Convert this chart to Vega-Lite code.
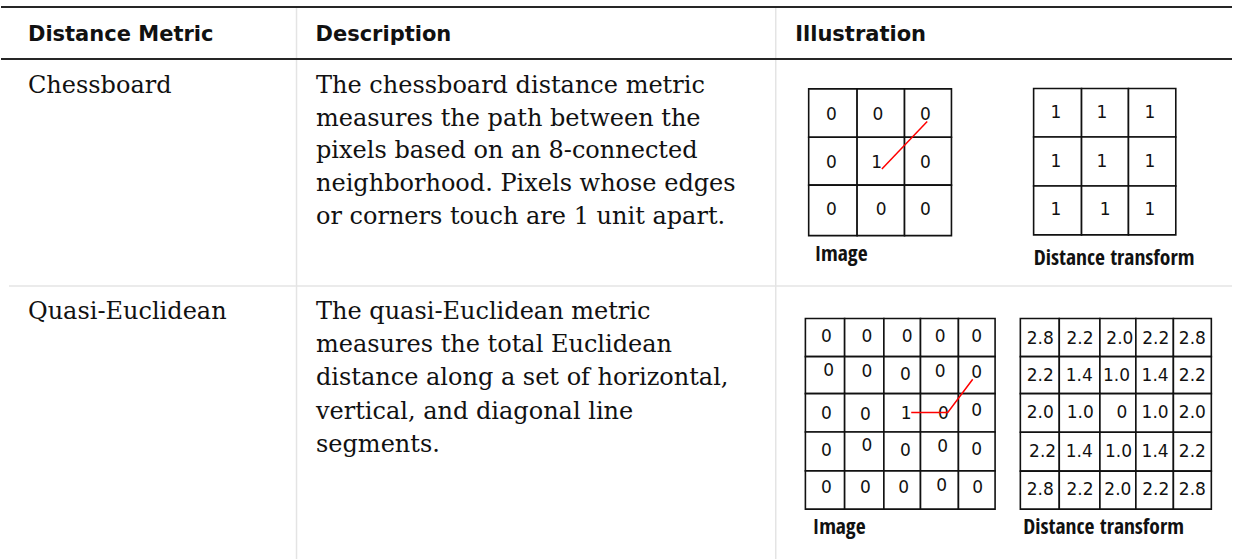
{
  "$schema": "https://vega.github.io/schema/vega-lite/v6.json",
  "width": 1233,
  "height": 560,
  "padding": 0,
  "autosize": {"type": "fit", "contains": "padding"},
  "background": "white",
  "config": {"view": {"stroke": null}},
  "datasets": {
    "lines": [
      {"kind": "divider", "x": 296, "x2": 296, "y": 8, "y2": 560},
      {"kind": "divider", "x": 776, "x2": 776, "y": 8, "y2": 560},
      {"kind": "divider", "x": 8, "x2": 1233, "y": 286.5, "y2": 286.5},
      {"kind": "border", "x": 0, "x2": 1233, "y": 7, "y2": 7},
      {"kind": "border", "x": 0, "x2": 1233, "y": 59, "y2": 59}
    ],
    "cells": [
      {"grid": "chess_image", "x": 809, "x2": 857.5, "y": 89, "y2": 137.5, "value": "0", "tx": 831.7, "ty": 115},
      {"grid": "chess_image", "x": 857.5, "x2": 905, "y": 89, "y2": 137.5, "value": "0", "tx": 878.3, "ty": 115},
      {"grid": "chess_image", "x": 905, "x2": 952, "y": 89, "y2": 137.5, "value": "0", "tx": 926, "ty": 115},
      {"grid": "chess_image", "x": 809, "x2": 857.5, "y": 137.5, "y2": 185.5, "value": "0", "tx": 831.7, "ty": 163},
      {"grid": "chess_image", "x": 857.5, "x2": 905, "y": 137.5, "y2": 185.5, "value": "1", "tx": 877, "ty": 163},
      {"grid": "chess_image", "x": 905, "x2": 952, "y": 137.5, "y2": 185.5, "value": "0", "tx": 926, "ty": 163},
      {"grid": "chess_image", "x": 809, "x2": 857.5, "y": 185.5, "y2": 236, "value": "0", "tx": 831.7, "ty": 210.7},
      {"grid": "chess_image", "x": 857.5, "x2": 905, "y": 185.5, "y2": 236, "value": "0", "tx": 881.7, "ty": 210.7},
      {"grid": "chess_image", "x": 905, "x2": 952, "y": 185.5, "y2": 236, "value": "0", "tx": 926, "ty": 210.7},
      {"grid": "chess_dt", "x": 1034.3, "x2": 1082.3, "y": 88.7, "y2": 137.3, "value": "1", "tx": 1056.7, "ty": 113.3},
      {"grid": "chess_dt", "x": 1082.3, "x2": 1129.3, "y": 88.7, "y2": 137.3, "value": "1", "tx": 1102.7, "ty": 113.3},
      {"grid": "chess_dt", "x": 1129.3, "x2": 1176.7, "y": 88.7, "y2": 137.3, "value": "1", "tx": 1150.7, "ty": 113.3},
      {"grid": "chess_dt", "x": 1034.3, "x2": 1082.3, "y": 137.3, "y2": 186.3, "value": "1", "tx": 1056.7, "ty": 162.3},
      {"grid": "chess_dt", "x": 1082.3, "x2": 1129.3, "y": 137.3, "y2": 186.3, "value": "1", "tx": 1102.7, "ty": 162.3},
      {"grid": "chess_dt", "x": 1129.3, "x2": 1176.7, "y": 137.3, "y2": 186.3, "value": "1", "tx": 1150.7, "ty": 162.3},
      {"grid": "chess_dt", "x": 1034.3, "x2": 1082.3, "y": 186.3, "y2": 235.3, "value": "1", "tx": 1056.7, "ty": 210.7},
      {"grid": "chess_dt", "x": 1082.3, "x2": 1129.3, "y": 186.3, "y2": 235.3, "value": "1", "tx": 1106, "ty": 210.7},
      {"grid": "chess_dt", "x": 1129.3, "x2": 1176.7, "y": 186.3, "y2": 235.3, "value": "1", "tx": 1150.7, "ty": 210.7},

      {"grid": "quasi_image", "x": 805.7, "x2": 845, "y": 319, "y2": 357.3, "value": "0", "tx": 826.7, "ty": 337.3},
      {"grid": "quasi_image", "x": 845, "x2": 884.3, "y": 319, "y2": 357.3, "value": "0", "tx": 867.3, "ty": 337.3},
      {"grid": "quasi_image", "x": 884.3, "x2": 921, "y": 319, "y2": 357.3, "value": "0", "tx": 907.7, "ty": 337.3},
      {"grid": "quasi_image", "x": 921, "x2": 959, "y": 319, "y2": 357.3, "value": "0", "tx": 940.7, "ty": 337.3},
      {"grid": "quasi_image", "x": 959, "x2": 995.7, "y": 319, "y2": 357.3, "value": "0", "tx": 977.3, "ty": 337.3},
      {"grid": "quasi_image", "x": 805.7, "x2": 845, "y": 357.3, "y2": 394.3, "value": "0", "tx": 829, "ty": 371.7},
      {"grid": "quasi_image", "x": 845, "x2": 884.3, "y": 357.3, "y2": 394.3, "value": "0", "tx": 867.3, "ty": 372.7},
      {"grid": "quasi_image", "x": 884.3, "x2": 921, "y": 357.3, "y2": 394.3, "value": "0", "tx": 906, "ty": 376},
      {"grid": "quasi_image", "x": 921, "x2": 959, "y": 357.3, "y2": 394.3, "value": "0", "tx": 940.7, "ty": 372.7},
      {"grid": "quasi_image", "x": 959, "x2": 995.7, "y": 357.3, "y2": 394.3, "value": "0", "tx": 977.3, "ty": 373.3},
      {"grid": "quasi_image", "x": 805.7, "x2": 845, "y": 394.3, "y2": 432.7, "value": "0", "tx": 826.7, "ty": 415},
      {"grid": "quasi_image", "x": 845, "x2": 884.3, "y": 394.3, "y2": 432.7, "value": "0", "tx": 865.7, "ty": 416},
      {"grid": "quasi_image", "x": 884.3, "x2": 921, "y": 394.3, "y2": 432.7, "value": "1", "tx": 906.7, "ty": 415},
      {"grid": "quasi_image", "x": 921, "x2": 959, "y": 394.3, "y2": 432.7, "value": "0", "tx": 944, "ty": 415},
      {"grid": "quasi_image", "x": 959, "x2": 995.7, "y": 394.3, "y2": 432.7, "value": "0", "tx": 977.3, "ty": 411.7},
      {"grid": "quasi_image", "x": 805.7, "x2": 845, "y": 432.7, "y2": 471.7, "value": "0", "tx": 826.7, "ty": 451.7},
      {"grid": "quasi_image", "x": 845, "x2": 884.3, "y": 432.7, "y2": 471.7, "value": "0", "tx": 867.3, "ty": 446.7},
      {"grid": "quasi_image", "x": 884.3, "x2": 921, "y": 432.7, "y2": 471.7, "value": "0", "tx": 906, "ty": 451.7},
      {"grid": "quasi_image", "x": 921, "x2": 959, "y": 432.7, "y2": 471.7, "value": "0", "tx": 943.3, "ty": 448.3},
      {"grid": "quasi_image", "x": 959, "x2": 995.7, "y": 432.7, "y2": 471.7, "value": "0", "tx": 977.3, "ty": 450.7},
      {"grid": "quasi_image", "x": 805.7, "x2": 845, "y": 471.7, "y2": 510, "value": "0", "tx": 826.7, "ty": 489.3},
      {"grid": "quasi_image", "x": 845, "x2": 884.3, "y": 471.7, "y2": 510, "value": "0", "tx": 865.7, "ty": 489.3},
      {"grid": "quasi_image", "x": 884.3, "x2": 921, "y": 471.7, "y2": 510, "value": "0", "tx": 904, "ty": 489.3},
      {"grid": "quasi_image", "x": 921, "x2": 959, "y": 471.7, "y2": 510, "value": "0", "tx": 942.3, "ty": 486.7},
      {"grid": "quasi_image", "x": 959, "x2": 995.7, "y": 471.7, "y2": 510, "value": "0", "tx": 978.3, "ty": 489.3},

      {"grid": "quasi_dt", "x": 1021, "x2": 1060, "y": 319, "y2": 357.3, "value": "2.8", "tx": 1041, "ty": 340},
      {"grid": "quasi_dt", "x": 1060, "x2": 1100.7, "y": 319, "y2": 357.3, "value": "2.2", "tx": 1080.7, "ty": 340},
      {"grid": "quasi_dt", "x": 1100.7, "x2": 1136.7, "y": 319, "y2": 357.3, "value": "2.0", "tx": 1120.7, "ty": 340},
      {"grid": "quasi_dt", "x": 1136.7, "x2": 1174.3, "y": 319, "y2": 357.3, "value": "2.2", "tx": 1156.7, "ty": 340},
      {"grid": "quasi_dt", "x": 1174.3, "x2": 1212.3, "y": 319, "y2": 357.3, "value": "2.8", "tx": 1193.3, "ty": 340},
      {"grid": "quasi_dt", "x": 1021, "x2": 1060, "y": 357.3, "y2": 394.3, "value": "2.2", "tx": 1041, "ty": 376.7},
      {"grid": "quasi_dt", "x": 1060, "x2": 1100.7, "y": 357.3, "y2": 394.3, "value": "1.4", "tx": 1080, "ty": 376.7},
      {"grid": "quasi_dt", "x": 1100.7, "x2": 1136.7, "y": 357.3, "y2": 394.3, "value": "1.0", "tx": 1117.3, "ty": 376.7},
      {"grid": "quasi_dt", "x": 1136.7, "x2": 1174.3, "y": 357.3, "y2": 394.3, "value": "1.4", "tx": 1156, "ty": 376.7},
      {"grid": "quasi_dt", "x": 1174.3, "x2": 1212.3, "y": 357.3, "y2": 394.3, "value": "2.2", "tx": 1193.3, "ty": 376.7},
      {"grid": "quasi_dt", "x": 1021, "x2": 1060, "y": 394.3, "y2": 433, "value": "2.0", "tx": 1041, "ty": 413.3},
      {"grid": "quasi_dt", "x": 1060, "x2": 1100.7, "y": 394.3, "y2": 433, "value": "1.0", "tx": 1081, "ty": 413.3},
      {"grid": "quasi_dt", "x": 1100.7, "x2": 1136.7, "y": 394.3, "y2": 433, "value": "0", "tx": 1122.7, "ty": 413.3},
      {"grid": "quasi_dt", "x": 1136.7, "x2": 1174.3, "y": 394.3, "y2": 433, "value": "1.0", "tx": 1156, "ty": 413.3},
      {"grid": "quasi_dt", "x": 1174.3, "x2": 1212.3, "y": 394.3, "y2": 433, "value": "2.0", "tx": 1193.3, "ty": 413.3},
      {"grid": "quasi_dt", "x": 1021, "x2": 1060, "y": 433, "y2": 472, "value": "2.2", "tx": 1043.3, "ty": 453.3},
      {"grid": "quasi_dt", "x": 1060, "x2": 1100.7, "y": 433, "y2": 472, "value": "1.4", "tx": 1080, "ty": 453.3},
      {"grid": "quasi_dt", "x": 1100.7, "x2": 1136.7, "y": 433, "y2": 472, "value": "1.0", "tx": 1119.3, "ty": 453.3},
      {"grid": "quasi_dt", "x": 1136.7, "x2": 1174.3, "y": 433, "y2": 472, "value": "1.4", "tx": 1156, "ty": 453.3},
      {"grid": "quasi_dt", "x": 1174.3, "x2": 1212.3, "y": 433, "y2": 472, "value": "2.2", "tx": 1193.3, "ty": 453.3},
      {"grid": "quasi_dt", "x": 1021, "x2": 1060, "y": 472, "y2": 510, "value": "2.8", "tx": 1041, "ty": 490.7},
      {"grid": "quasi_dt", "x": 1060, "x2": 1100.7, "y": 472, "y2": 510, "value": "2.2", "tx": 1080.7, "ty": 490.7},
      {"grid": "quasi_dt", "x": 1100.7, "x2": 1136.7, "y": 472, "y2": 510, "value": "2.0", "tx": 1118.7, "ty": 490.7},
      {"grid": "quasi_dt", "x": 1136.7, "x2": 1174.3, "y": 472, "y2": 510, "value": "2.2", "tx": 1156.7, "ty": 490.7},
      {"grid": "quasi_dt", "x": 1174.3, "x2": 1212.3, "y": 472, "y2": 510, "value": "2.8", "tx": 1193.3, "ty": 490.7}
    ],
    "paths": [
      {"path": "chessboard", "order": 1, "x": 882.3, "y": 169.3},
      {"path": "chessboard", "order": 2, "x": 927.7, "y": 121.7},
      {"path": "quasi", "order": 1, "x": 911.7, "y": 413.3},
      {"path": "quasi", "order": 2, "x": 948.3, "y": 413.3},
      {"path": "quasi", "order": 3, "x": 973.3, "y": 380}
    ],
    "texts": [
      {"kind": "header", "text": "Distance Metric", "x": 27, "y": 41.5},
      {"kind": "header", "text": "Description", "x": 315, "y": 41.5},
      {"kind": "header", "text": "Illustration", "x": 795.5, "y": 41.5},
      {"kind": "body", "text": "Chessboard", "x": 27, "y": 93},
      {"kind": "body", "text": "The chessboard distance metric", "x": 315.5, "y": 93},
      {"kind": "body", "text": "measures the path between the", "x": 315.5, "y": 126},
      {"kind": "body", "text": "pixels based on an 8-connected", "x": 315.5, "y": 158.5},
      {"kind": "body", "text": "neighborhood. Pixels whose edges", "x": 315.5, "y": 191.5},
      {"kind": "body", "text": "or corners touch are 1 unit apart.", "x": 315.5, "y": 224.5},
      {"kind": "body", "text": "Quasi-Euclidean", "x": 27, "y": 320},
      {"kind": "body", "text": "The quasi-Euclidean metric", "x": 315.5, "y": 320},
      {"kind": "body", "text": "measures the total Euclidean", "x": 315.5, "y": 353},
      {"kind": "body", "text": "distance along a set of horizontal,", "x": 315.5, "y": 386},
      {"kind": "body", "text": "vertical, and diagonal line", "x": 315.5, "y": 419.5},
      {"kind": "body", "text": "segments.", "x": 315.5, "y": 452.5},
      {"kind": "caption", "text": "Image", "x": 815, "y": 261.5},
      {"kind": "caption", "text": "Distance transform", "x": 1034.5, "y": 265},
      {"kind": "caption", "text": "Image", "x": 813, "y": 535},
      {"kind": "caption", "text": "Distance transform", "x": 1024, "y": 535}
    ]
  },
  "layer": [
    {
      "data": {"name": "lines"},
      "transform": [{"filter": "datum.kind === 'divider'"}],
      "mark": {"type": "rule", "color": "#e4e4e4", "strokeWidth": 1.5},
      "encoding": {
        "x": {"field": "x", "type": "quantitative", "axis": null, "scale": {"domain": [0, 1233], "nice": false, "zero": false}},
        "x2": {"field": "x2"},
        "y": {"field": "y", "type": "quantitative", "axis": null, "scale": {"domain": [0, 560], "nice": false, "zero": false, "reverse": true}},
        "y2": {"field": "y2"}
      }
    },
    {
      "data": {"name": "lines"},
      "transform": [{"filter": "datum.kind === 'border'"}],
      "mark": {"type": "rule", "color": "#262626", "strokeWidth": 2},
      "encoding": {
        "x": {"field": "x", "type": "quantitative", "axis": null, "scale": {"domain": [0, 1233], "nice": false, "zero": false}},
        "x2": {"field": "x2"},
        "y": {"field": "y", "type": "quantitative", "axis": null, "scale": {"domain": [0, 560], "nice": false, "zero": false, "reverse": true}},
        "y2": {"field": "y2"}
      }
    },
    {
      "data": {"name": "cells"},
      "mark": {"type": "rect", "fill": "white", "stroke": "#111111", "strokeWidth": 1.6},
      "encoding": {
        "x": {"field": "x", "type": "quantitative", "axis": null, "scale": {"domain": [0, 1233], "nice": false, "zero": false}},
        "x2": {"field": "x2"},
        "y": {"field": "y", "type": "quantitative", "axis": null, "scale": {"domain": [0, 560], "nice": false, "zero": false, "reverse": true}},
        "y2": {"field": "y2"}
      }
    },
    {
      "data": {"name": "cells"},
      "mark": {"type": "text", "font": "DejaVu Sans", "fontSize": 17, "color": "#111111", "align": "center", "baseline": "middle"},
      "encoding": {
        "x": {"field": "tx", "type": "quantitative", "axis": null, "scale": {"domain": [0, 1233], "nice": false, "zero": false}},
        "y": {"field": "ty", "type": "quantitative", "axis": null, "scale": {"domain": [0, 560], "nice": false, "zero": false, "reverse": true}},
        "text": {"field": "value", "type": "nominal"}
      }
    },
    {
      "data": {"name": "paths"},
      "mark": {"type": "line", "color": "#ff0000", "strokeWidth": 1.5},
      "encoding": {
        "x": {"field": "x", "type": "quantitative", "axis": null, "scale": {"domain": [0, 1233], "nice": false, "zero": false}},
        "y": {"field": "y", "type": "quantitative", "axis": null, "scale": {"domain": [0, 560], "nice": false, "zero": false, "reverse": true}},
        "detail": {"field": "path", "type": "nominal"},
        "order": {"field": "order", "type": "quantitative"}
      }
    },
    {
      "data": {"name": "texts"},
      "transform": [{"filter": "datum.kind === 'header'"}],
      "mark": {"type": "text", "font": "DejaVu Sans", "fontWeight": "bold", "fontSize": 21, "color": "#111111", "align": "left", "baseline": "alphabetic"},
      "encoding": {
        "x": {"field": "x", "type": "quantitative", "axis": null, "scale": {"domain": [0, 1233], "nice": false, "zero": false}},
        "y": {"field": "y", "type": "quantitative", "axis": null, "scale": {"domain": [0, 560], "nice": false, "zero": false, "reverse": true}},
        "text": {"field": "text", "type": "nominal"}
      }
    },
    {
      "data": {"name": "texts"},
      "transform": [{"filter": "datum.kind === 'body'"}],
      "mark": {"type": "text", "font": "DejaVu Serif", "fontSize": 24, "color": "#111111", "align": "left", "baseline": "alphabetic"},
      "encoding": {
        "x": {"field": "x", "type": "quantitative", "axis": null, "scale": {"domain": [0, 1233], "nice": false, "zero": false}},
        "y": {"field": "y", "type": "quantitative", "axis": null, "scale": {"domain": [0, 560], "nice": false, "zero": false, "reverse": true}},
        "text": {"field": "text", "type": "nominal"}
      }
    },
    {
      "data": {"name": "texts"},
      "transform": [{"filter": "datum.kind === 'caption'"}],
      "mark": {"type": "text", "font": "Noto Sans ExtraCondensed, Noto Sans Condensed, Open Sans Condensed, serif", "fontWeight": 400, "fontSize": 21.5, "color": "#111111", "align": "left", "baseline": "alphabetic"},
      "encoding": {
        "x": {"field": "x", "type": "quantitative", "axis": null, "scale": {"domain": [0, 1233], "nice": false, "zero": false}},
        "y": {"field": "y", "type": "quantitative", "axis": null, "scale": {"domain": [0, 560], "nice": false, "zero": false, "reverse": true}},
        "text": {"field": "text", "type": "nominal"}
      }
    }
  ]
}
